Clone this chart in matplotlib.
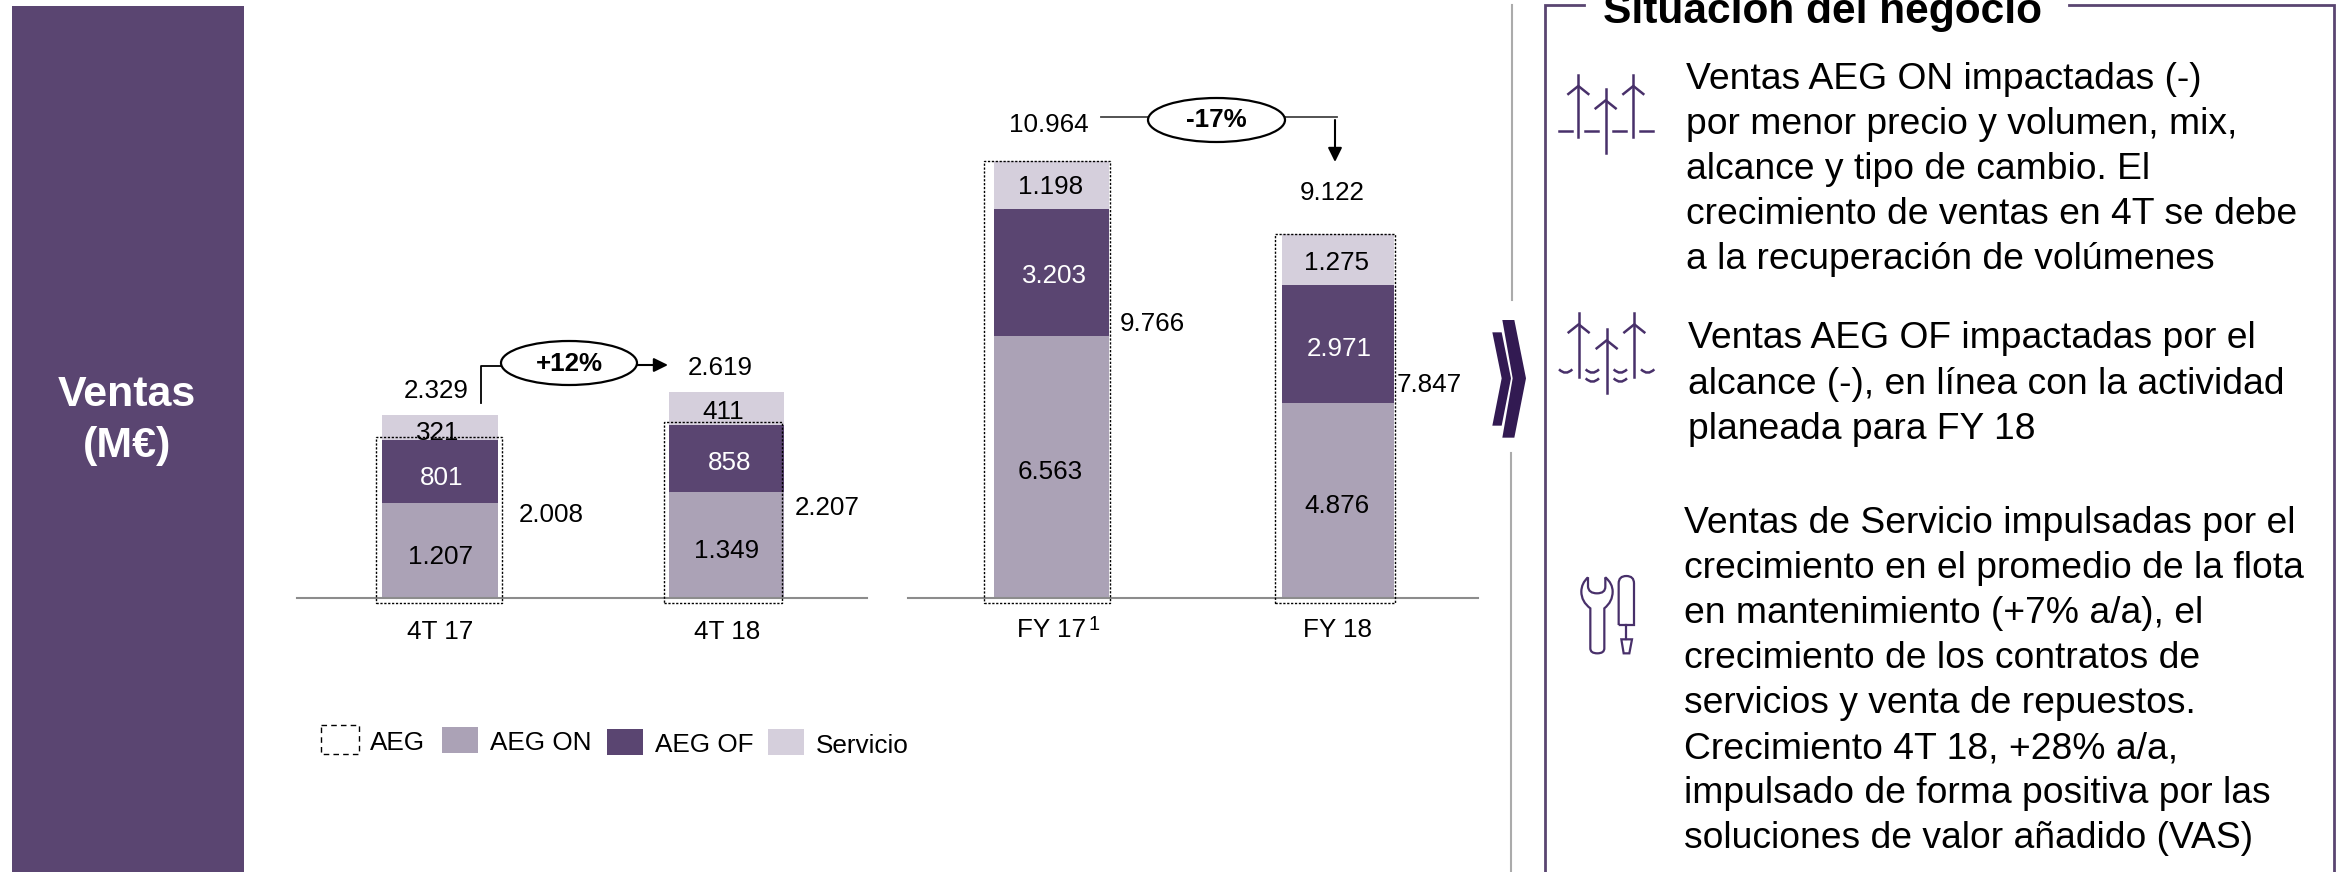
import matplotlib
matplotlib.use("Agg")
import matplotlib.pyplot as plt
from matplotlib.patches import Rectangle, Ellipse, Polygon, PathPatch
from matplotlib.path import Path

plt.rcParams['font.family'] = ['Liberation Sans', 'DejaVu Sans']

W, H = 2346, 872
PURPLE = '#5a4571'
DARK = '#321a52'
ICON = '#48306a'
ON_C = '#aba2b6'
OF_C = '#5a4571'
SERV_C = '#d5cfdc'
NUM_FS = 18.7
BODY_FS = 26.8

# datos del grafico
trim_labels = ['4T 17', '4T 18']
trim_on = [1207, 1349]
trim_of = [801, 858]
trim_serv = [321, 411]
trim_aeg = [2008, 2207]
trim_total = [2329, 2619]

fy_labels = ['FY 17', 'FY 18']
fy_on = [6563, 4876]
fy_of = [3203, 2971]
fy_serv = [1198, 1275]
fy_aeg = [9766, 7847]
fy_total = [10964, 9122]

trim_change = '+12%'
fy_change = '-17%'

legend_labels = ['AEG', 'AEG ON', 'AEG OF', 'Servicio']

text_on = ['Ventas AEG ON impactadas (-)', 'por menor precio y volumen, mix,',
           'alcance y tipo de cambio. El', 'crecimiento de ventas en 4T se debe',
           'a la recuperación de volúmenes']
text_of = ['Ventas AEG OF impactadas por el', 'alcance (-), en línea con la actividad',
           'planeada para FY 18']
text_serv = ['Ventas de Servicio impulsadas por el', 'crecimiento en el promedio de la flota',
             'en mantenimiento (+7% a/a), el', 'crecimiento de los contratos de',
             'servicios y venta de repuestos.', 'Crecimiento 4T 18, +28% a/a,',
             'impulsado de forma positiva por las', 'soluciones de valor añadido (VAS)']


def fmt(v):
    return f"{v:,}".replace(",", ".")


def bar_axes(fig, x0, x1, base, scale):
    # ejes en pixeles de la figura, de y=0 hasta la linea base
    ax = fig.add_axes([x0 / W, 1 - base / H, (x1 - x0) / W, base / H])
    ax.set_xlim(-0.5, 1.49)
    ax.set_ylim(0, base / scale)
    ax.patch.set_alpha(0)
    for s in ['top', 'left', 'right']:
        ax.spines[s].set_visible(False)
    ax.spines['bottom'].set_color('#8c8c8c')
    ax.spines['bottom'].set_linewidth(1.5)
    ax.set_yticks([])
    return ax


def stacked(ax, on, of, serv, widths, labels, pad):
    x = [0, 1]
    ax.bar(x, on, widths, color=ON_C, zorder=2)
    ax.bar(x, of, widths, bottom=on, color=OF_C, zorder=2)
    ax.bar(x, serv, widths, bottom=[a + b for a, b in zip(on, of)], color=SERV_C, zorder=2)
    ax.set_xticks(x, labels, fontsize=NUM_FS)
    ax.tick_params(axis='x', length=0, pad=pad)


def dashed_box(ax, xc, xl, xr, low, top):
    ax.add_patch(Rectangle((xc + xl, low), xr - xl, top - low, fill=False, ec='black',
                           lw=1.0, ls=(0, (1.6, 1.2)), clip_on=False, zorder=4))


fig = plt.figure(figsize=(W / 100, H / 100), dpi=100, facecolor='white')

ax1 = bar_axes(fig, 297, 867, 598, 0.0785)
stacked(ax1, trim_on, trim_of, trim_serv, [0.405, 0.40], trim_labels, 16)
dashed_box(ax1, 0, -0.224, 0.217, -64, trim_aeg[0] + 38)
dashed_box(ax1, 1, -0.22, 0.192, -64, trim_aeg[1] + 38)

ax2 = bar_axes(fig, 908, 1478, 597.5, 0.0398)
stacked(ax2, fy_on, fy_of, fy_serv, [0.402, 0.392], fy_labels, 14.5)
dashed_box(ax2, 0, -0.234, 0.206, -126, fy_total[0])
dashed_box(ax2, 1, -0.217, 0.199, -126, fy_total[1])

# capa en pixeles para todo lo demas
ov = fig.add_axes([0, 0, 1, 1], zorder=5)
ov.set_xlim(0, W)
ov.set_ylim(H, 0)
ov.axis('off')


def num(x, y, s, color='black', **kw):
    ov.text(x, y + 1.5, s, ha='center', va='center', fontsize=kw.pop('fontsize', NUM_FS), color=color, **kw)


# panel izquierdo
ov.add_patch(Rectangle((12, 6), 232, H - 6, color=PURPLE, lw=0))
ov.text(127, 395, 'Ventas', color='white', fontsize=31, fontweight='bold', ha='center', va='center')
ov.text(127, 446, '(M€)', color='white', fontsize=31, fontweight='bold', ha='center', va='center')

# etiquetas trimestre
num(440, 555, fmt(trim_on[0]))
num(442, 476, fmt(trim_of[0]), color='white')
num(438, 431, fmt(trim_serv[0]))
num(727, 549, fmt(trim_on[1]))
num(729.5, 461, fmt(trim_of[1]), color='white')
num(723, 410, fmt(trim_serv[1]))
num(551.5, 513, fmt(trim_aeg[0]))
num(827, 506, fmt(trim_aeg[1]))
num(436, 389, fmt(trim_total[0]))
num(720, 366, fmt(trim_total[1]))

# etiquetas FY
num(1050, 470.5, fmt(fy_on[0]))
num(1054, 274, fmt(fy_of[0]), color='white')
num(1050.7, 186, fmt(fy_serv[0]))
num(1337, 504, fmt(fy_on[1]))
num(1339, 347, fmt(fy_of[1]), color='white')
num(1337, 261, fmt(fy_serv[1]))
num(1152, 322, fmt(fy_aeg[0]))
num(1429.5, 383, fmt(fy_aeg[1]))
num(1049, 124, fmt(fy_total[0]))
num(1332, 191, fmt(fy_total[1]))
num(1093.6, 623, '1', fontsize=14.5)

# flechas de variacion
arrow = dict(arrowstyle='-|>,head_width=0.42,head_length=0.85', color='black', lw=1.5, shrinkA=0, shrinkB=0)
ov.plot([481, 481, 501], [403, 366, 366], color='black', lw=1.3)
ov.add_patch(Ellipse((569, 363), 136, 44, fc='white', ec='black', lw=1.6, zorder=3))
ov.text(569, 364, trim_change, fontsize=NUM_FS, fontweight='bold', ha='center', va='center', zorder=4)
ov.annotate('', xy=(668, 365), xytext=(637, 365), arrowprops=arrow)

ov.plot([1101, 1148], [117.5, 117.5], color='#444444', lw=1.3)
ov.plot([1285, 1337], [117.5, 117.5], color='#444444', lw=1.3)
ov.add_patch(Ellipse((1216.5, 120), 137, 44, fc='white', ec='black', lw=1.6, zorder=3))
ov.text(1216.5, 120, fy_change, fontsize=NUM_FS, fontweight='bold', ha='center', va='center', zorder=4)
ov.annotate('', xy=(1335, 162), xytext=(1335, 120), arrowprops=arrow)

# leyenda
ov.add_patch(Rectangle((321, 725), 38, 29, fill=False, ec='black', lw=1.0, ls=(0, (4, 3))))
ov.add_patch(Rectangle((442, 727), 36, 26, color=ON_C, lw=0))
ov.add_patch(Rectangle((607, 729), 36, 26, color=OF_C, lw=0))
ov.add_patch(Rectangle((768, 729), 36, 26, color=SERV_C, lw=0))
for lx, ly, lab in zip([370, 490, 655, 816], [743, 743, 745, 746], legend_labels):
    ov.text(lx, ly, lab, fontsize=18.8, ha='left', va='center')

# separador y chevrones
ov.plot([1512.2, 1512.2], [5, 300], color='#ababab', lw=1.5)
ov.plot([1511.2, 1511.2], [453, H], color='#ababab', lw=1.5)
big = [(127, 960), (163, 960), (198, 1135), (163, 1313), (127, 1313), (158, 1135)]
small = [(97, 997), (125, 997), (153, 1135), (125, 1277), (97, 1277), (125, 1135)]
for poly in (big, small):
    ov.add_patch(Polygon([(1460 + a / 3, b / 3) for a, b in poly], color=DARK, lw=0))

# marco de la derecha
ov.plot([1584, 1545, 1545], [5, 5, H], color=PURPLE, lw=2, solid_joinstyle='miter')
ov.plot([2069, 2334, 2334], [5, 5, H], color=PURPLE, lw=2, solid_joinstyle='miter')
ov.text(1603, 23, 'Situación del negocio', fontsize=30.6, fontweight='bold', ha='left', va='baseline')

# textos
for i, line in enumerate(text_on):
    ov.text(1686, 89 + 45 * i, line, fontsize=BODY_FS, ha='left', va='baseline')
for i, line in enumerate(text_of):
    ov.text(1688, 348 + 45.5 * i, line, fontsize=BODY_FS, ha='left', va='baseline')
for i, line in enumerate(text_serv):
    ov.text(1684, 533 + 45 * i, line, fontsize=BODY_FS, ha='left', va='baseline')


# iconos
def turbine(xc, top, bottom):
    x = 1460 + xc / 3
    ov.plot([x, x], [top / 3, bottom / 3], color=ICON, lw=1.8)
    ov.plot([x - 10, x, x + 10], [top / 3 + 19, top / 3 + 11, top / 3 + 19], color=ICON, lw=1.8)


for xc, top, bottom in [(355, 225, 412), (437, 268, 458), (520, 225, 412)]:
    turbine(xc, top, bottom)
for a, b in [(298, 335), (375, 415), (458, 498), (540, 578)]:
    ov.plot([1460 + a / 3, 1460 + b / 3], [392 / 3, 392 / 3], color=ICON, lw=1.8)

for xc, top, bottom in [(356, 940, 1130), (440, 988, 1178), (523, 940, 1130)]:
    turbine(xc, top, bottom)
for xc, yc in [(317, 1108), (397, 1108), (481, 1108), (563, 1108), (397, 1135), (481, 1135)]:
    verts = [(1460 + (xc - 20) / 3, yc / 3), (1460 + xc / 3, (yc + 20) / 3), (1460 + (xc + 20) / 3, yc / 3)]
    ov.add_patch(PathPatch(Path(verts, [Path.MOVETO, Path.CURVE3, Path.CURVE3]), fill=False, ec=ICON, lw=1.8))


def z6(p):
    return (1572 + p[0] / 3, 560 + p[1] / 3)


wrench = [(48, 52), (28, 70), (28, 95), (28, 125), (55, 145), (55, 265), (55, 280), (76, 280), (97, 280),
          (97, 265), (97, 145), (122, 125), (122, 95), (122, 70), (100, 52), (100, 80), (100, 100),
          (75, 100), (50, 100), (48, 80), (48, 52)]
codes = [Path.MOVETO, Path.CURVE3, Path.CURVE3, Path.CURVE3, Path.CURVE3, Path.LINETO, Path.CURVE3,
         Path.CURVE3, Path.CURVE3, Path.CURVE3, Path.LINETO, Path.CURVE3, Path.CURVE3, Path.CURVE3,
         Path.CURVE3, Path.LINETO, Path.CURVE3, Path.CURVE3, Path.CURVE3, Path.CURVE3, Path.LINETO]
ov.add_patch(PathPatch(Path([z6(p) for p in wrench], codes), fill=False, ec=ICON, lw=1.6))

handle = [(140, 195), (140, 70), (140, 48), (163, 48), (186, 48), (186, 70), (186, 195), (140, 195)]
hcodes = [Path.MOVETO, Path.LINETO, Path.CURVE3, Path.CURVE3, Path.CURVE3, Path.CURVE3, Path.LINETO, Path.LINETO]
ov.add_patch(PathPatch(Path([z6(p) for p in handle], hcodes), fill=False, ec=ICON, lw=1.6))
ov.plot(*zip(z6((163, 195)), z6((163, 237))), color=ICON, lw=1.6)
ov.add_patch(Polygon([z6(p) for p in [(148, 238), (180, 238), (172, 280), (155, 280)]], fill=False, ec=ICON, lw=1.6))

fig.savefig('out.png', dpi=100)
